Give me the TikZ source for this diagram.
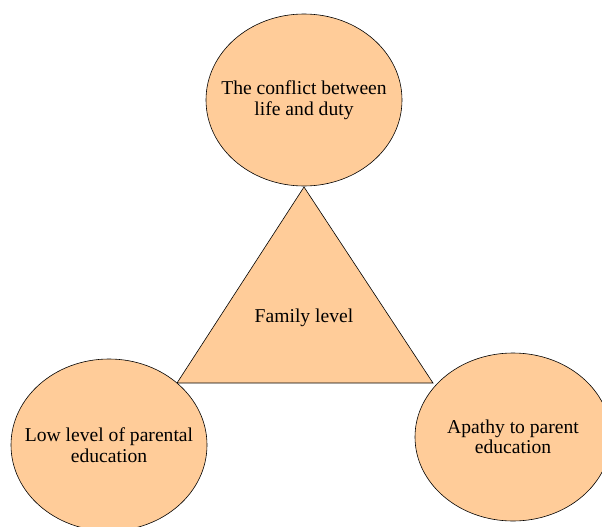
\documentclass[tikz,border=0pt]{standalone}
\usepackage{fontspec}
\setmainfont{Liberation Serif}
\usetikzlibrary{shapes.geometric}
\definecolor{peach}{RGB}{255,204,153}
\tikzset{
  bubble/.style={ellipse, draw=black, fill=peach, line width=0.6pt, inner xsep=-16pt, inner ysep=0pt, align=center,
    font=\fontsize{19.6}{20.5}\selectfont},
  tri/.style={draw=black, fill=peach, line width=0.6pt, line join=miter},
  lbl/.style={font=\fontsize{19.6}{20.5}\selectfont, inner sep=0pt}
}
\begin{document}
\begin{tikzpicture}[x=1pt,y=-1pt]
\useasboundingbox (0,0) rectangle (602,527);
\coordinate (apex) at (304,187);
\coordinate (bl) at (177,383);
\coordinate (br) at (433,383);
\draw[tri] (apex) -- (bl) -- (br) -- cycle;
\node[lbl] (family) at (304,318) {Family level};
\node[bubble, minimum width=196pt, minimum height=172pt] (top) at (304,100) {The conflict between\\life and duty};
\node[bubble, minimum width=196pt, minimum height=172pt] (left) at (109,445) {Low level of parental\\education};
\node[bubble, minimum width=196pt, minimum height=168pt] (right) at (513,437) {Apathy to parent\\education};
\end{tikzpicture}
\end{document}
